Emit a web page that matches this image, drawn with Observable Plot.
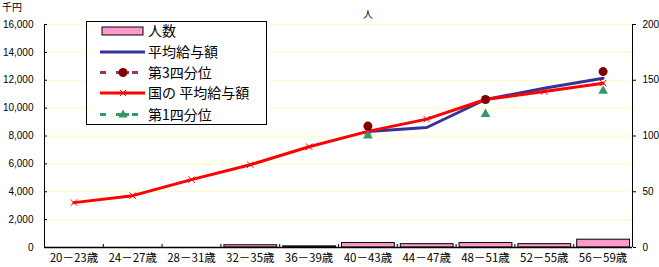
<!DOCTYPE html>
<html>
<head>
<meta charset="utf-8">
<script src="https://cdn.jsdelivr.net/npm/d3@7"></script>
<script src="https://cdn.jsdelivr.net/npm/@observablehq/plot@0.6"></script>
<style>
  html, body { margin: 0; padding: 0; background: white; }
  #wrap { position: relative; width: 659px; height: 267px; overflow: hidden; }
  .lbl { position: absolute; font-family: "Noto Sans CJK JP", sans-serif; font-size: 10px; color: black; line-height: 12px; white-space: nowrap; }
  #legend { position: absolute; left: 86px; top: 21px; }
</style>
</head>
<body>
<div id="wrap"></div>
<script>
// ---- data ----
const categories = ["20－23歳","24－27歳","28－31歳","32－35歳","36－39歳","40－43歳","44－47歳","48－51歳","52－55歳","56－59歳"];
const headcount   = [null, null, null, 2, 1, 4, 3, 4, 3, 7];                      // 人 (right axis)
const avgSalary   = [null, null, null, null, null, 8330, 8610, 10620, 11430, 12150]; // 平均給与額 (千円)
const thirdQuart  = [null, null, null, null, null, 8710, null, 10620, null, 12620];  // 第3四分位
const nationalAvg = [3220, 3720, 4870, 5940, 7230, 8330, 9210, 10620, 11190, 11790]; // 国の平均給与額
const firstQuart  = [null, null, null, null, null, 8020, null, 9570, null, 11240];   // 第1四分位
const leftTicks   = [0, 2000, 4000, 6000, 8000, 10000, 12000, 14000, 16000];
const rightTicks  = [0, 50, 100, 150, 200];
const legendLabels = ["人数", "平均給与額", "第3四分位", "国の 平均給与額", "第1四分位"];

const yMax = 16000, rMax = 200, k = yMax / rMax;
const rows = categories.map((c, i) => ({
  i, c, count: headcount[i], avg: avgSalary[i], q3: thirdQuart[i], nat: nationalAvg[i], q1: firstQuart[i]
}));

const chart = Plot.plot({
  width: 659, height: 267,
  marginLeft: 44, marginRight: 27, marginTop: 24, marginBottom: 20,
  x: {domain: [0, categories.length], axis: null},
  y: {domain: [0, yMax], axis: null},
  style: {background: "white", color: "black", fontFamily: "'Liberation Sans', Arial, sans-serif", fontSize: "10px"},
  marks: [
    Plot.gridY(leftTicks.filter(d => d > 0), {stroke: "#ffffb0", strokeOpacity: 1}),
    Plot.rectY(rows.filter(d => d.count != null), {
      x1: d => d.i, x2: d => d.i + 1, y: d => d.count * k,
      fill: "#ff99cc", stroke: "black", strokeWidth: 1, insetLeft: 3.5, insetRight: 2.5
    }),
    Plot.ruleY([0], {stroke: "black", strokeWidth: 1.3}),
    Plot.ruleX([0, categories.length], {stroke: "black"}),
    Plot.line(rows, {x: d => d.i + 0.5, y: "avg", stroke: "#333399", strokeWidth: 3}),
    Plot.line(rows, {x: d => d.i + 0.5, y: "nat", stroke: "#ff0000", strokeWidth: 3}),
    Plot.dot(rows, {x: d => d.i + 0.5, y: "nat", symbol: "times", r: 3, stroke: "#ff0000", strokeWidth: 1}),
    Plot.dot(rows.filter(d => d.q3 != null), {x: d => d.i + 0.5, y: "q3", r: 4.5, fill: "#800000"}),
    Plot.dot(rows.filter(d => d.q1 != null), {x: d => d.i + 0.5, y: "q1", symbol: "triangle", r: 3.6, fill: "#339966"}),
    Plot.axisY(leftTicks, {anchor: "left", tickSize: -3, tickPadding: 14, tickFormat: d3.format(",")}),
    Plot.axisY(rightTicks.map(v => v * k), {anchor: "right", tickSize: 3, tickPadding: 7, tickFormat: d => d / k}),
    Plot.axisX(d3.range(1, categories.length), {anchor: "bottom", tickSize: -3, tickFormat: () => ""}),
    Plot.axisX(categories.map((c, i) => i + 0.5), {
      anchor: "bottom", tickSize: 0, tickPadding: 6,
      tickFormat: d => categories[Math.floor(d)],
      fontFamily: "'Noto Sans CJK JP', sans-serif", fontSize: 11.5
    })
  ]
});
const wrap = document.getElementById("wrap");
wrap.appendChild(chart);

// unit labels
const u1 = document.createElement("div");
u1.className = "lbl"; u1.textContent = "千円";
u1.style.left = "2px"; u1.style.top = "1px";
wrap.appendChild(u1);
const u2 = document.createElement("div");
u2.className = "lbl"; u2.textContent = "人";
u2.style.left = "363px"; u2.style.top = "8px";
wrap.appendChild(u2);

// legend box
const ns = "http://www.w3.org/2000/svg";
const lg = document.createElementNS(ns, "svg");
lg.setAttribute("id", "legend");
lg.setAttribute("width", 181); lg.setAttribute("height", 104);
const rowY = [10, 31, 51.5, 72, 93.5];
let html = `<rect x="0.5" y="0.5" width="180" height="103" fill="white" stroke="black"/>`;
// 人数
html += `<rect x="16" y="${rowY[0]-4}" width="41" height="8" fill="#ff99cc" stroke="black"/>`;
// 平均給与額
html += `<line x1="14" x2="59" y1="${rowY[1]}" y2="${rowY[1]}" stroke="#333399" stroke-width="3"/>`;
// 第3四分位
html += `<line x1="14" x2="20" y1="${rowY[2]}" y2="${rowY[2]}" stroke="#993366" stroke-width="3"/>`;
html += `<line x1="30" x2="43" y1="${rowY[2]}" y2="${rowY[2]}" stroke="#993366" stroke-width="3"/>`;
html += `<line x1="46" x2="52" y1="${rowY[2]}" y2="${rowY[2]}" stroke="#993366" stroke-width="3"/>`;
html += `<circle cx="37" cy="${rowY[2]}" r="4.5" fill="#800000"/>`;
// 国の平均給与額
html += `<line x1="14" x2="59" y1="${rowY[3]}" y2="${rowY[3]}" stroke="#ff0000" stroke-width="3"/>`;
html += `<path d="M34,${rowY[3]-3}L40,${rowY[3]+3}M34,${rowY[3]+3}L40,${rowY[3]-3}" stroke="#ff0000" stroke-width="1"/>`;
// 第1四分位
html += `<line x1="14" x2="20" y1="${rowY[4]}" y2="${rowY[4]}" stroke="#339966" stroke-width="3"/>`;
html += `<line x1="30" x2="43" y1="${rowY[4]}" y2="${rowY[4]}" stroke="#339966" stroke-width="3"/>`;
html += `<line x1="46" x2="52" y1="${rowY[4]}" y2="${rowY[4]}" stroke="#339966" stroke-width="3"/>`;
html += `<path d="M37,${rowY[4]-5}L41.5,${rowY[4]+3}L32.5,${rowY[4]+3}Z" fill="#339966"/>`;
legendLabels.forEach((t, i) => {
  html += `<text x="62" y="${rowY[i]}" dy="0.36em" font-family="'Noto Sans CJK JP', sans-serif" font-size="14" fill="black">${t}</text>`;
});
lg.innerHTML = html;
wrap.appendChild(lg);
</script>
</body>
</html>
